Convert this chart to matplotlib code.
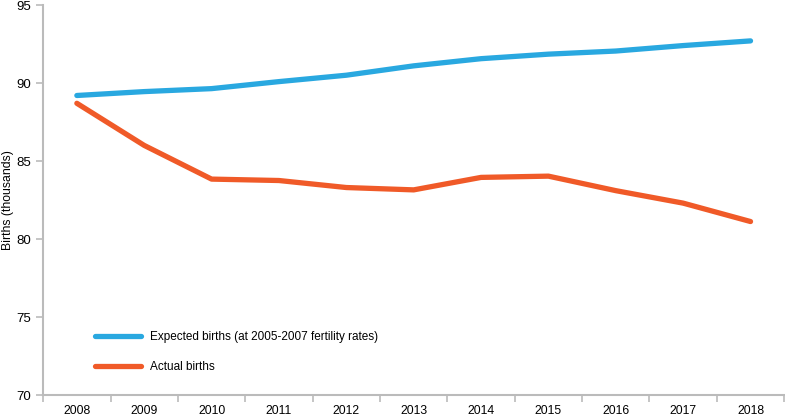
import numpy as np
import matplotlib.pyplot as plt

# 数据
years = ['2008', '2009', '2010', '2011', '2012', '2013', '2014', '2015', '2016', '2017', '2018']
expected = [89.2, 89.45, 89.64, 90.09, 90.5, 91.1, 91.56, 91.85, 92.05, 92.4, 92.7]
actual = [88.7, 86.0, 83.84, 83.75, 83.3, 83.15, 83.95, 84.03, 83.1, 82.3, 81.12]

plt.rcParams['font.family'] = ['Liberation Sans', 'DejaVu Sans']

fig = plt.figure(figsize=(7.85, 4.18), dpi=100)
ax = fig.add_axes([0.055, 0.055, 0.944, 0.933])

x = np.arange(len(years))
ax.plot(x, expected, color='#29a8e0', lw=3.8, solid_capstyle='round', solid_joinstyle='round',
        label='Expected births (at 2005-2007 fertility rates)')
ax.plot(x, actual, color='#f05a28', lw=3.8, solid_capstyle='round', solid_joinstyle='round',
        label='Actual births')

# 坐标轴
ax.set_xlim(-0.5, len(years) - 0.5)
ax.set_ylim(70, 95)
ax.set_yticks([70, 75, 80, 85, 90, 95])
ax.set_xticks(x)
ax.set_xticklabels(years)
ax.set_xticks(np.arange(-0.5, len(years)), minor=True)
ax.tick_params(axis='x', which='major', length=0, pad=7, labelsize=8.8)
ax.tick_params(axis='x', which='minor', length=5, color='#bbbbbb', width=1.2, direction='out')
ax.tick_params(axis='y', length=5, color='#bbbbbb', width=1.2, labelsize=9.5, pad=4)
ax.set_ylabel('Births (thousands)', fontsize=8.8)
ax.yaxis.set_label_coords(-0.039, 0.5)

for s in ['top', 'right']:
    ax.spines[s].set_visible(False)
for s in ['left', 'bottom']:
    ax.spines[s].set_color('#bbbbbb')
    ax.spines[s].set_linewidth(1.5)

ax.legend(loc='lower left', bbox_to_anchor=(0.055, 0.03), frameon=False, fontsize=8.5,
          handlelength=3.9, labelspacing=1.5, handletextpad=0.8)

plt.savefig('out.png', dpi=100)
